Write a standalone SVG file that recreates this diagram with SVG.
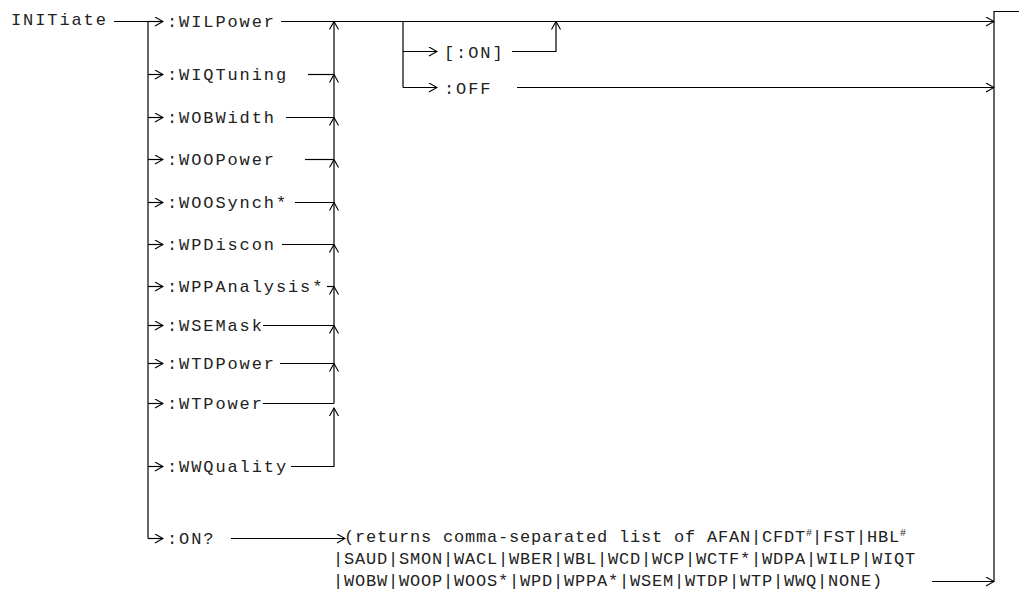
<svg xmlns="http://www.w3.org/2000/svg" width="1019" height="590" viewBox="0 0 1019 590">
<style>
.t{font-family:"Liberation Mono","DejaVu Sans Mono",monospace;font-size:17px;fill:#222;letter-spacing:1.9px}
.b{font-family:"Liberation Mono","DejaVu Sans Mono",monospace;font-size:17px;fill:#222;letter-spacing:0.8px}
.sup{font-size:10px;letter-spacing:0}
.c line,.c path,.c polyline{stroke:#000;stroke-width:1.2;fill:none}
.a{marker-end:url(#ar)}
</style>
<defs>
<marker id="ar" markerUnits="userSpaceOnUse" markerWidth="10" markerHeight="10" refX="9" refY="5" orient="auto" viewBox="0 0 10 10">
<path d="M1,0.5 L9,5 L1,9.5" fill="none" stroke="#000" stroke-width="1.1"/>
</marker>
</defs>
<rect width="1019" height="590" fill="#fff"/>

<g id="initiate"><text class="t" x="11" y="25">INITiate</text></g>
<g id="wilpower"><text class="t" x="167" y="27">:WILPower</text></g>
<g id="wiqtuning"><text class="t" x="167" y="80">:WIQTuning</text></g>
<g id="wobwidth"><text class="t" x="167" y="123">:WOBWidth</text></g>
<g id="woopower"><text class="t" x="167" y="165">:WOOPower</text></g>
<g id="woosynch"><text class="t" x="167" y="208">:WOOSynch*</text></g>
<g id="wpdiscon"><text class="t" x="167" y="250">:WPDiscon</text></g>
<g id="wppanalysis"><text class="t" x="167" y="292">:WPPAnalysis*</text></g>
<g id="wsemask"><text class="t" x="167" y="331">:WSEMask</text></g>
<g id="wtdpower"><text class="t" x="167" y="369">:WTDPower</text></g>
<g id="wtpower"><text class="t" x="167" y="409">:WTPower</text></g>
<g id="wwquality"><text class="t" x="167" y="472">:WWQuality</text></g>
<g id="on-query"><text class="t" x="167" y="544">:ON?</text></g>
<g id="on"><text class="t" x="444" y="58">[:ON]</text></g>
<g id="off"><text class="t" x="444" y="94">:OFF</text></g>
<g id="returns">
<text class="b" x="344" y="542">(returns comma-separated list of AFAN|CFDT<tspan class="sup" dy="-6">#</tspan><tspan dy="6">|FST|HBL</tspan><tspan class="sup" dy="-6">#</tspan></text>
<text class="b" x="333" y="564">|SAUD|SMON|WACL|WBER|WBL|WCD|WCP|WCTF*|WDPA|WILP|WIQT</text>
<text class="b" x="333" y="586">|WOBW|WOOP|WOOS*|WPD|WPPA*|WSEM|WTDP|WTP|WWQ|NONE)</text>
</g>

<g id="connectors" class="c">
<line x1="114" y1="21.5" x2="148" y2="21.5"/>
<line x1="148" y1="21.5" x2="148" y2="538.5"/>
<line class="a" x1="148" y1="21.5" x2="163" y2="21.5"/>
<line class="a" x1="148" y1="74.5" x2="163" y2="74.5"/>
<line class="a" x1="148" y1="117.5" x2="163" y2="117.5"/>
<line class="a" x1="148" y1="159.5" x2="163" y2="159.5"/>
<line class="a" x1="148" y1="202.5" x2="163" y2="202.5"/>
<line class="a" x1="148" y1="244.5" x2="163" y2="244.5"/>
<line class="a" x1="148" y1="286.5" x2="163" y2="286.5"/>
<line class="a" x1="148" y1="325.5" x2="163" y2="325.5"/>
<line class="a" x1="148" y1="363.5" x2="163" y2="363.5"/>
<line class="a" x1="148" y1="403.5" x2="163" y2="403.5"/>
<line class="a" x1="148" y1="466.5" x2="163" y2="466.5"/>
<line class="a" x1="148" y1="538.5" x2="163" y2="538.5"/>

<line class="a" x1="281" y1="21.5" x2="994" y2="21.5"/>
<line x1="308" y1="74.5" x2="334" y2="74.5"/>
<line x1="286" y1="117.5" x2="334" y2="117.5"/>
<line x1="305" y1="159.5" x2="334" y2="159.5"/>
<line x1="295" y1="202.5" x2="334" y2="202.5"/>
<line x1="282" y1="244.5" x2="334" y2="244.5"/>
<line x1="327" y1="286.5" x2="334" y2="286.5"/>
<line x1="263" y1="325.5" x2="334" y2="325.5"/>
<line x1="280" y1="363.5" x2="334" y2="363.5"/>
<line x1="263" y1="403.5" x2="334" y2="403.5"/>
<polyline points="291,466.5 334,466.5 334,408" class="a"/>

<line class="a" x1="334" y1="74.5" x2="334" y2="21.5"/>
<line class="a" x1="334" y1="117.5" x2="334" y2="74.5"/>
<line class="a" x1="334" y1="159.5" x2="334" y2="117.5"/>
<line class="a" x1="334" y1="202.5" x2="334" y2="159.5"/>
<line class="a" x1="334" y1="244.5" x2="334" y2="202.5"/>
<line class="a" x1="334" y1="286.5" x2="334" y2="244.5"/>
<line class="a" x1="334" y1="325.5" x2="334" y2="286.5"/>
<line class="a" x1="334" y1="363.5" x2="334" y2="325.5"/>
<line class="a" x1="334" y1="403.5" x2="334" y2="363.5"/>

<line x1="403" y1="21.5" x2="403" y2="87.5"/>
<line class="a" x1="403" y1="51.5" x2="437" y2="51.5"/>
<line class="a" x1="403" y1="87.5" x2="437" y2="87.5"/>
<polyline class="a" points="512,51.5 556,51.5 556,21.5"/>
<line class="a" x1="517" y1="87.5" x2="994" y2="87.5"/>

<line class="a" x1="231" y1="538.5" x2="345" y2="538.5"/>
<line class="a" x1="932" y1="581.5" x2="994" y2="581.5"/>
<polyline points="1019,11.5 994,11.5 994,581.5"/>
</g>
</svg>
